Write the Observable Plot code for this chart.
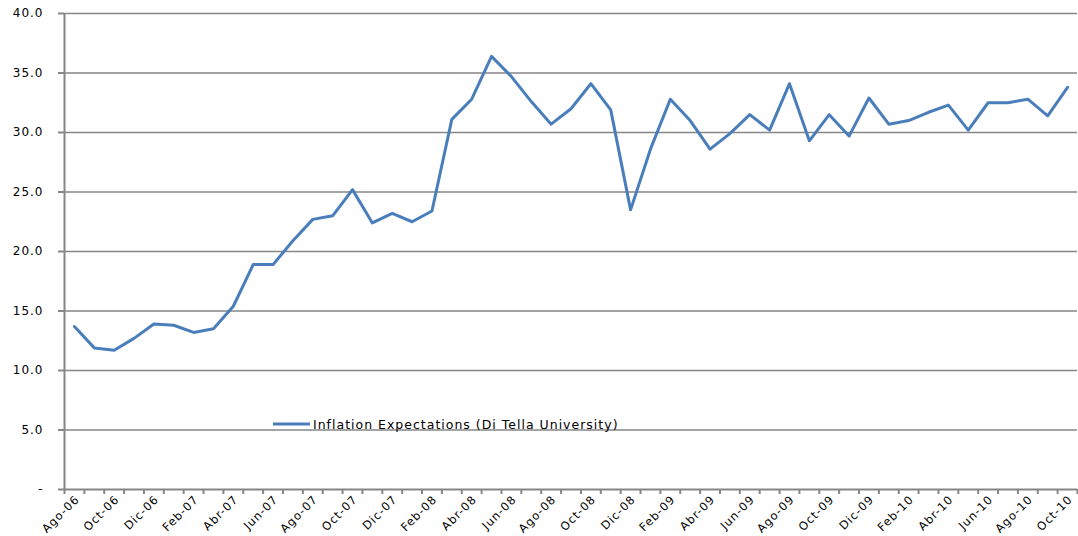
<!DOCTYPE html>
<html>
<head>
<meta charset="utf-8">
<script src="https://cdn.jsdelivr.net/npm/d3@7"></script>
<script src="https://cdn.jsdelivr.net/npm/@observablehq/plot@0.6"></script>
<style>
  html, body { margin: 0; padding: 0; background: #fff; }
  #chart svg { display: block; }
</style>
</head>
<body>
<div id="chart"></div>
<script>
const months = [
  "Ago-06","Sep-06","Oct-06","Nov-06","Dic-06",
  "Ene-07","Feb-07","Mar-07","Abr-07","May-07","Jun-07","Jul-07","Ago-07","Sep-07","Oct-07","Nov-07","Dic-07",
  "Ene-08","Feb-08","Mar-08","Abr-08","May-08","Jun-08","Jul-08","Ago-08","Sep-08","Oct-08","Nov-08","Dic-08",
  "Ene-09","Feb-09","Mar-09","Abr-09","May-09","Jun-09","Jul-09","Ago-09","Sep-09","Oct-09","Nov-09","Dic-09",
  "Ene-10","Feb-10","Mar-10","Abr-10","May-10","Jun-10","Jul-10","Ago-10","Sep-10","Oct-10"
];
const expectations = [
  13.7, 11.9, 11.7, 12.7, 13.9,
  13.8, 13.2, 13.5, 15.4, 18.9, 18.9, 20.9, 22.7, 23.0, 25.2, 22.4, 23.2,
  22.5, 23.4, 31.1, 32.8, 36.4, 34.7, 32.6, 30.7, 32.0, 34.1, 31.9, 23.5,
  28.6, 32.8, 31.0, 28.6, 29.9, 31.5, 30.2, 34.1, 29.3, 31.5, 29.7, 32.9,
  30.7, 31.0, 31.7, 32.3, 30.2, 32.5, 32.5, 32.8, 31.4, 33.8
];
const seriesName = "Inflation Expectations (Di Tella University)";
const yTicks = [0, 5, 10, 15, 20, 25, 30, 35, 40];

const data = months.map((m, i) => ({i, month: m, value: expectations[i]}));
const n = months.length;
const boundaries = d3.range(-0.5, n, 1);
const labelIdx = d3.range(0, n, 2);

const gray = "#868686";
const blue = "#4A7EBB";
const font = "'DejaVu Sans', Verdana, sans-serif";

const plot = Plot.plot({
  width: 1078,
  height: 536,
  marginLeft: 64,
  marginRight: 1,
  marginTop: 13,
  marginBottom: 47,
  style: {fontFamily: font, fontSize: "12px", color: "#000", background: "#fff", letterSpacing: "1px"},
  x: {type: "linear", domain: [-0.5, n - 0.5]},
  y: {type: "linear", domain: [0, 40]},
  marks: [
    Plot.ruleY(yTicks.filter(d => d > 0), {stroke: gray, strokeWidth: 1.5}),
    Plot.ruleY([0], {stroke: gray, strokeWidth: 2}),
    Plot.ruleX([-0.5], {stroke: gray, strokeWidth: 2}),
    Plot.axisX({ticks: boundaries, tickSize: 5, tickFormat: () => "", stroke: gray, strokeWidth: 2, label: null}),
    Plot.axisX({ticks: labelIdx, tickSize: 0, tickPadding: 8, tickRotate: -45, tickFormat: i => months[i], label: null, fill: "#000", dx: 3, fontSize: 11.5}),
    Plot.axisY({ticks: yTicks, tickSize: 6, tickPadding: 15, stroke: gray, strokeWidth: 2, tickFormat: d => d === 0 ? "-" : d.toFixed(1), label: null, fill: "#000"}),
    Plot.line(data, {x: "i", y: "value", stroke: blue, strokeWidth: 3, strokeLinejoin: "round", strokeLinecap: "round"})
  ]
});

// legend inside plot area
const svg = d3.select(plot);
const lg = svg.append("g");
lg.append("line").attr("x1", 273).attr("x2", 310).attr("y1", 424).attr("y2", 424)
  .attr("stroke", blue).attr("stroke-width", 3);
lg.append("text").attr("x", 313).attr("y", 429).text(seriesName)
  .attr("text-anchor", "start")
  .attr("font-family", font).attr("font-size", 12.5)
  .attr("letter-spacing", "1px").attr("fill", "#000");

document.getElementById("chart").appendChild(plot);
</script>
</body>
</html>
